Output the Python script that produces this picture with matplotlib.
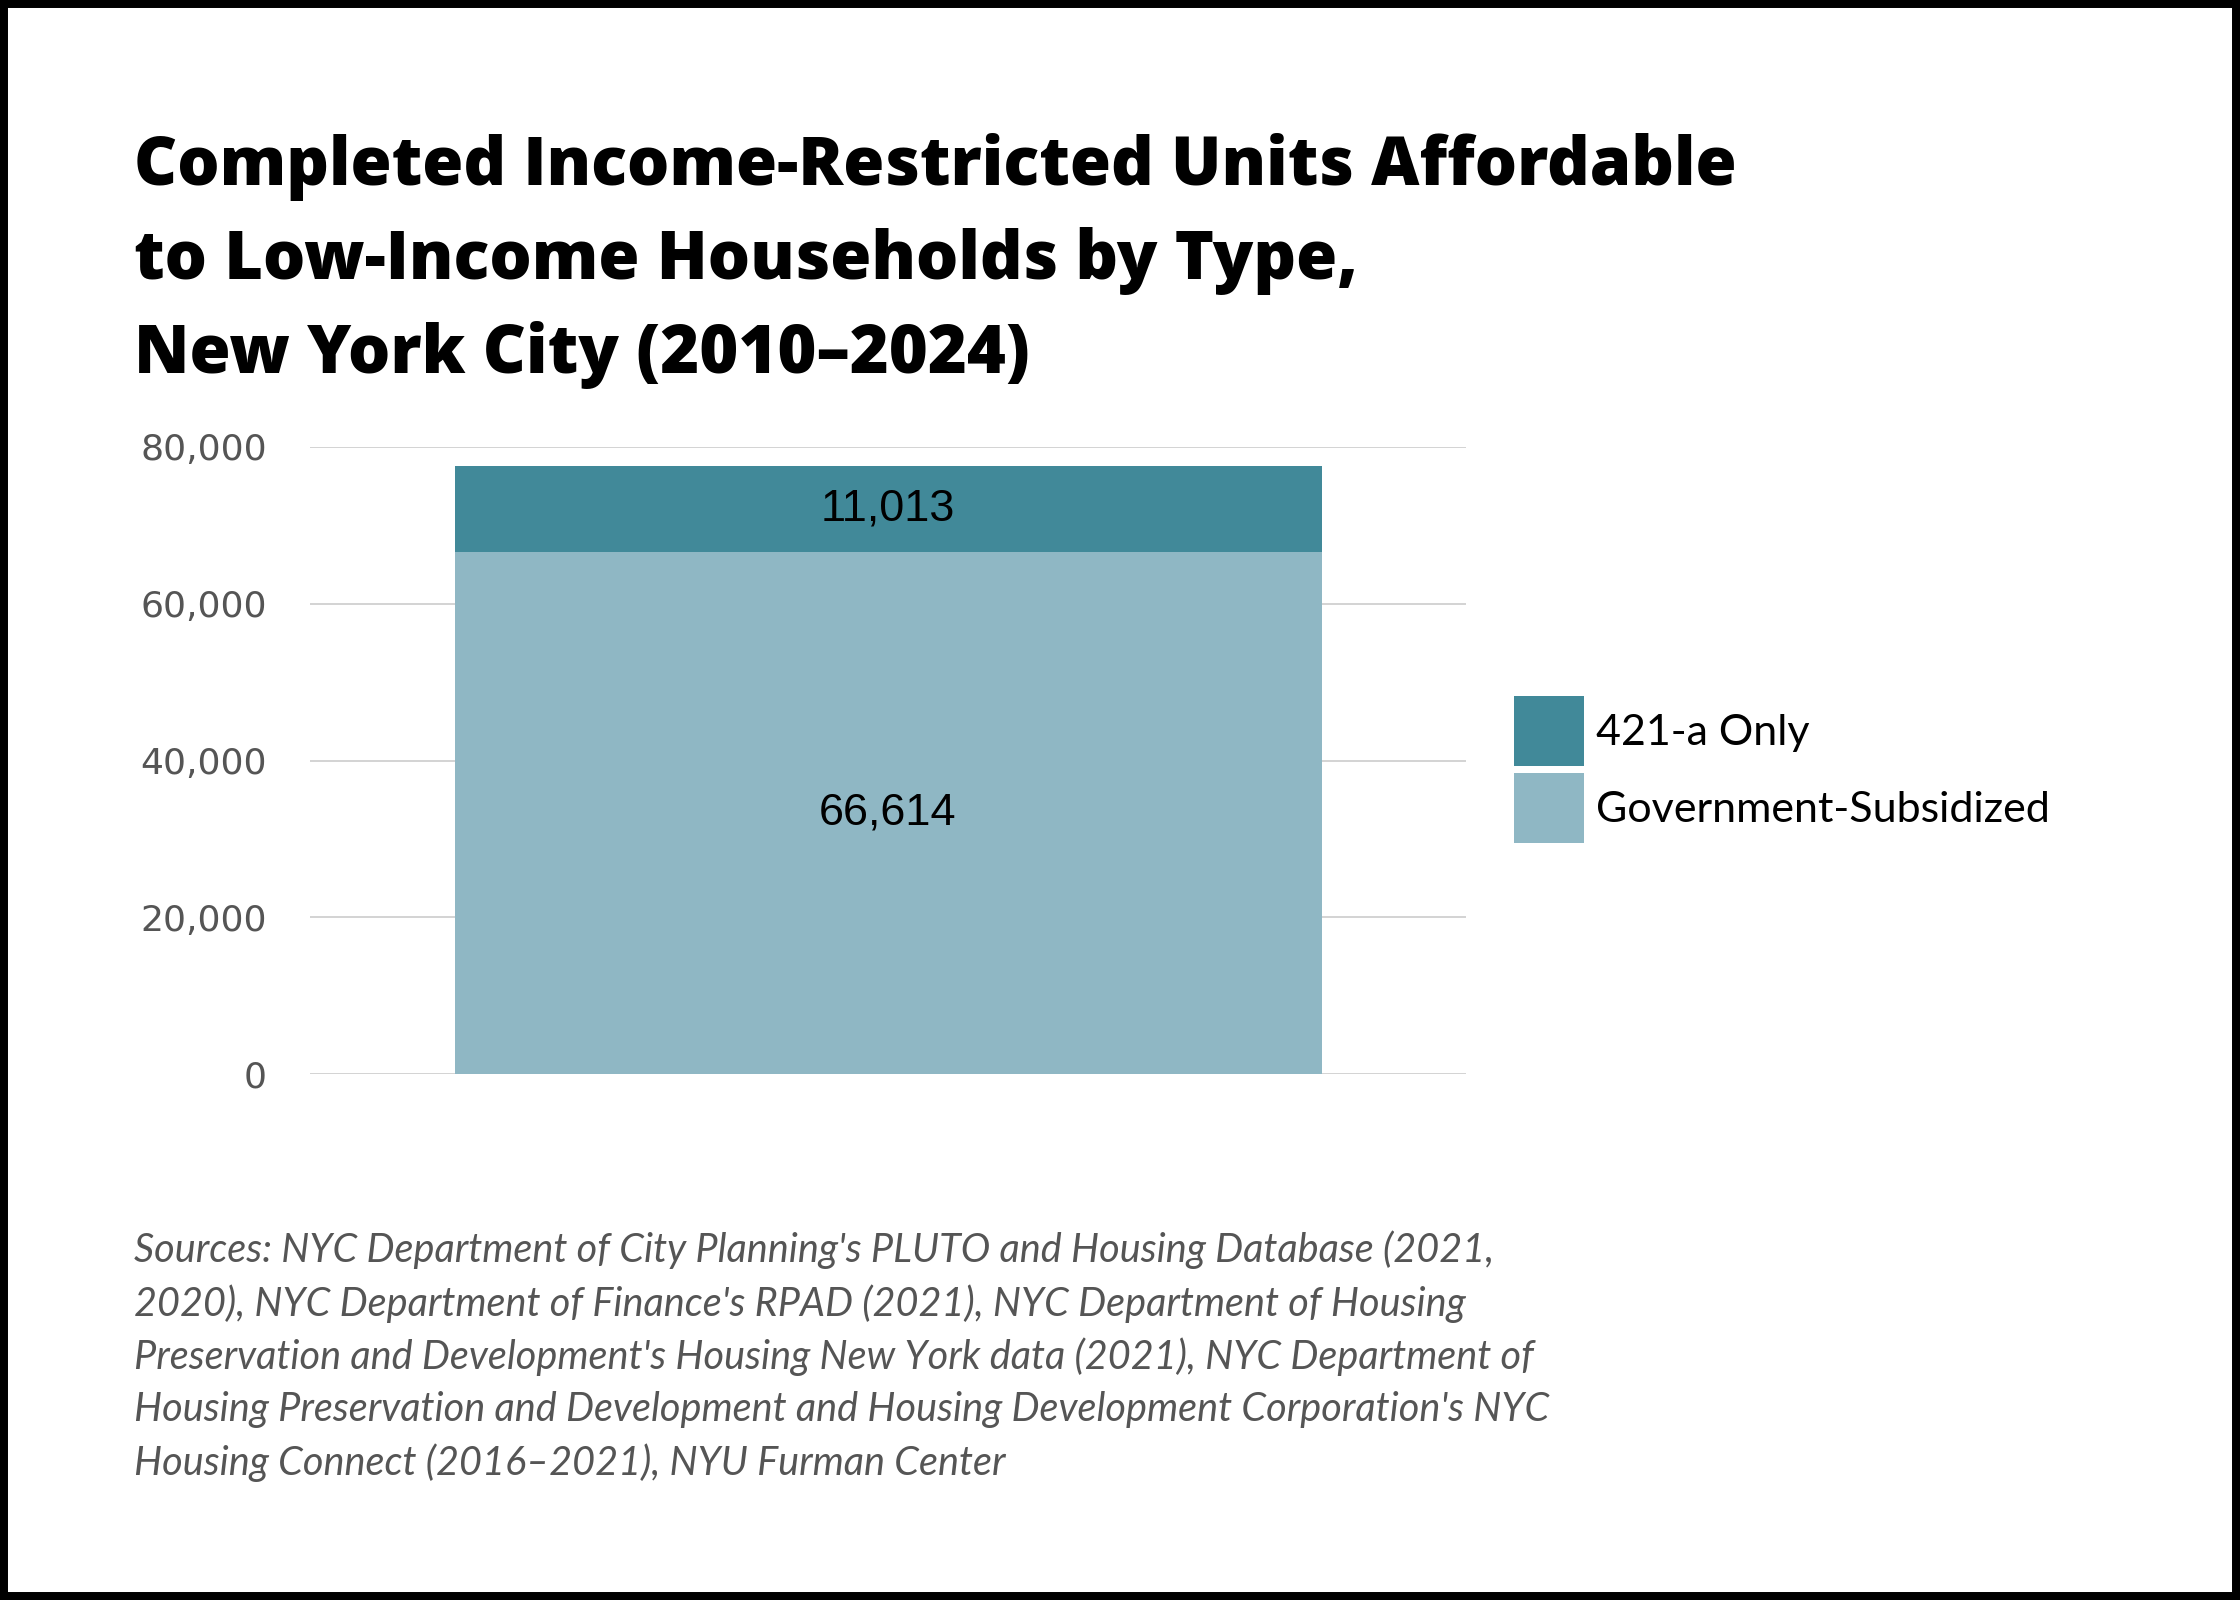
import matplotlib
matplotlib.use("Agg")
import matplotlib.pyplot as plt
from matplotlib.patches import Patch, Rectangle

# data
categories = ["2010-2024"]
gov_subsidized = [66614]
only_421a = [11013]
series_names = ["421-a Only", "Government-Subsidized"]
yticks = [0, 20000, 40000, 60000, 80000]

title = ("Completed Income-Restricted Units Affordable\n"
         "to Low-Income Households by Type,\n"
         "New York City (2010\u20132024)")
sources = ("Sources: NYC Department of City Planning's PLUTO and Housing Database (2021,\n"
           "2020), NYC Department of Finance's RPAD (2021), NYC Department of Housing\n"
           "Preservation and Development's Housing New York data (2021), NYC Department of\n"
           "Housing Preservation and Development and Housing Development Corporation's NYC\n"
           "Housing Connect (2016\u20132021), NYU Furman Center")

dark = "#418999"
light = "#8fb7c4"

fig = plt.figure(figsize=(22.4, 16), dpi=100)
ax = fig.add_axes([310/2240, 1-1074/1600, (1466-310)/2240, (1074-447)/1600])

x = range(len(categories))
ax.bar(x, gov_subsidized, width=0.75, color=light, zorder=2)
ax.bar(x, only_421a, width=0.75, bottom=gov_subsidized, color=dark, zorder=2)

for i in x:
    ax.text(i, gov_subsidized[i]/2, f"{gov_subsidized[i]:,}", ha="center", va="center",
            fontsize=32.5, family="Liberation Sans", color="black")
    ax.text(i, gov_subsidized[i] + only_421a[i]/2, f"{only_421a[i]:,}", ha="center",
            va="center", fontsize=32.5, family="Liberation Sans", color="black")

ax.set_xlim(-0.5, 0.5)
ax.set_ylim(0, 80000)
ax.set_yticks(yticks)
ax.set_yticklabels([f"{v:,}" for v in yticks], fontsize=26, color="#555555",
                   family="DejaVu Sans")
ax.set_xticks([])
ax.tick_params(axis="y", length=0, pad=31)
ax.grid(axis="y", color="#cccccc", linewidth=1.2, zorder=0)
for s in ax.spines.values():
    s.set_visible(False)

# legend, sizes given in pixels and converted to font-size units
fs = 31
fs_px = fs * 100 / 72
box = 70
handles = [Patch(facecolor=dark), Patch(facecolor=light)]
fig.legend(handles, series_names, loc="upper left",
           bbox_to_anchor=(1514/2240, 1-696/1600), frameon=False,
           prop={"family": "Lato", "size": fs},
           handlelength=box/fs_px, handleheight=(box/fs_px - 0.245)/0.65,
           labelspacing=7/fs_px, handletextpad=12/fs_px,
           borderpad=0, borderaxespad=0)

fig.text(134/2240, 1-133/1600, title, ha="left", va="top", fontsize=48,
         family="Open Sans", weight="heavy", linespacing=1.5, color="black")

fig.text(134/2240, 1-1230/1600, sources, ha="left", va="top", fontsize=28.5,
         family="Lato", style="italic", color="#555555", linespacing=1.48)

fig.patches.append(Rectangle((0, 0), 1, 1, transform=fig.transFigure, fill=False,
                             edgecolor="black", linewidth=11.5))

fig.savefig("out.png", dpi=100)
